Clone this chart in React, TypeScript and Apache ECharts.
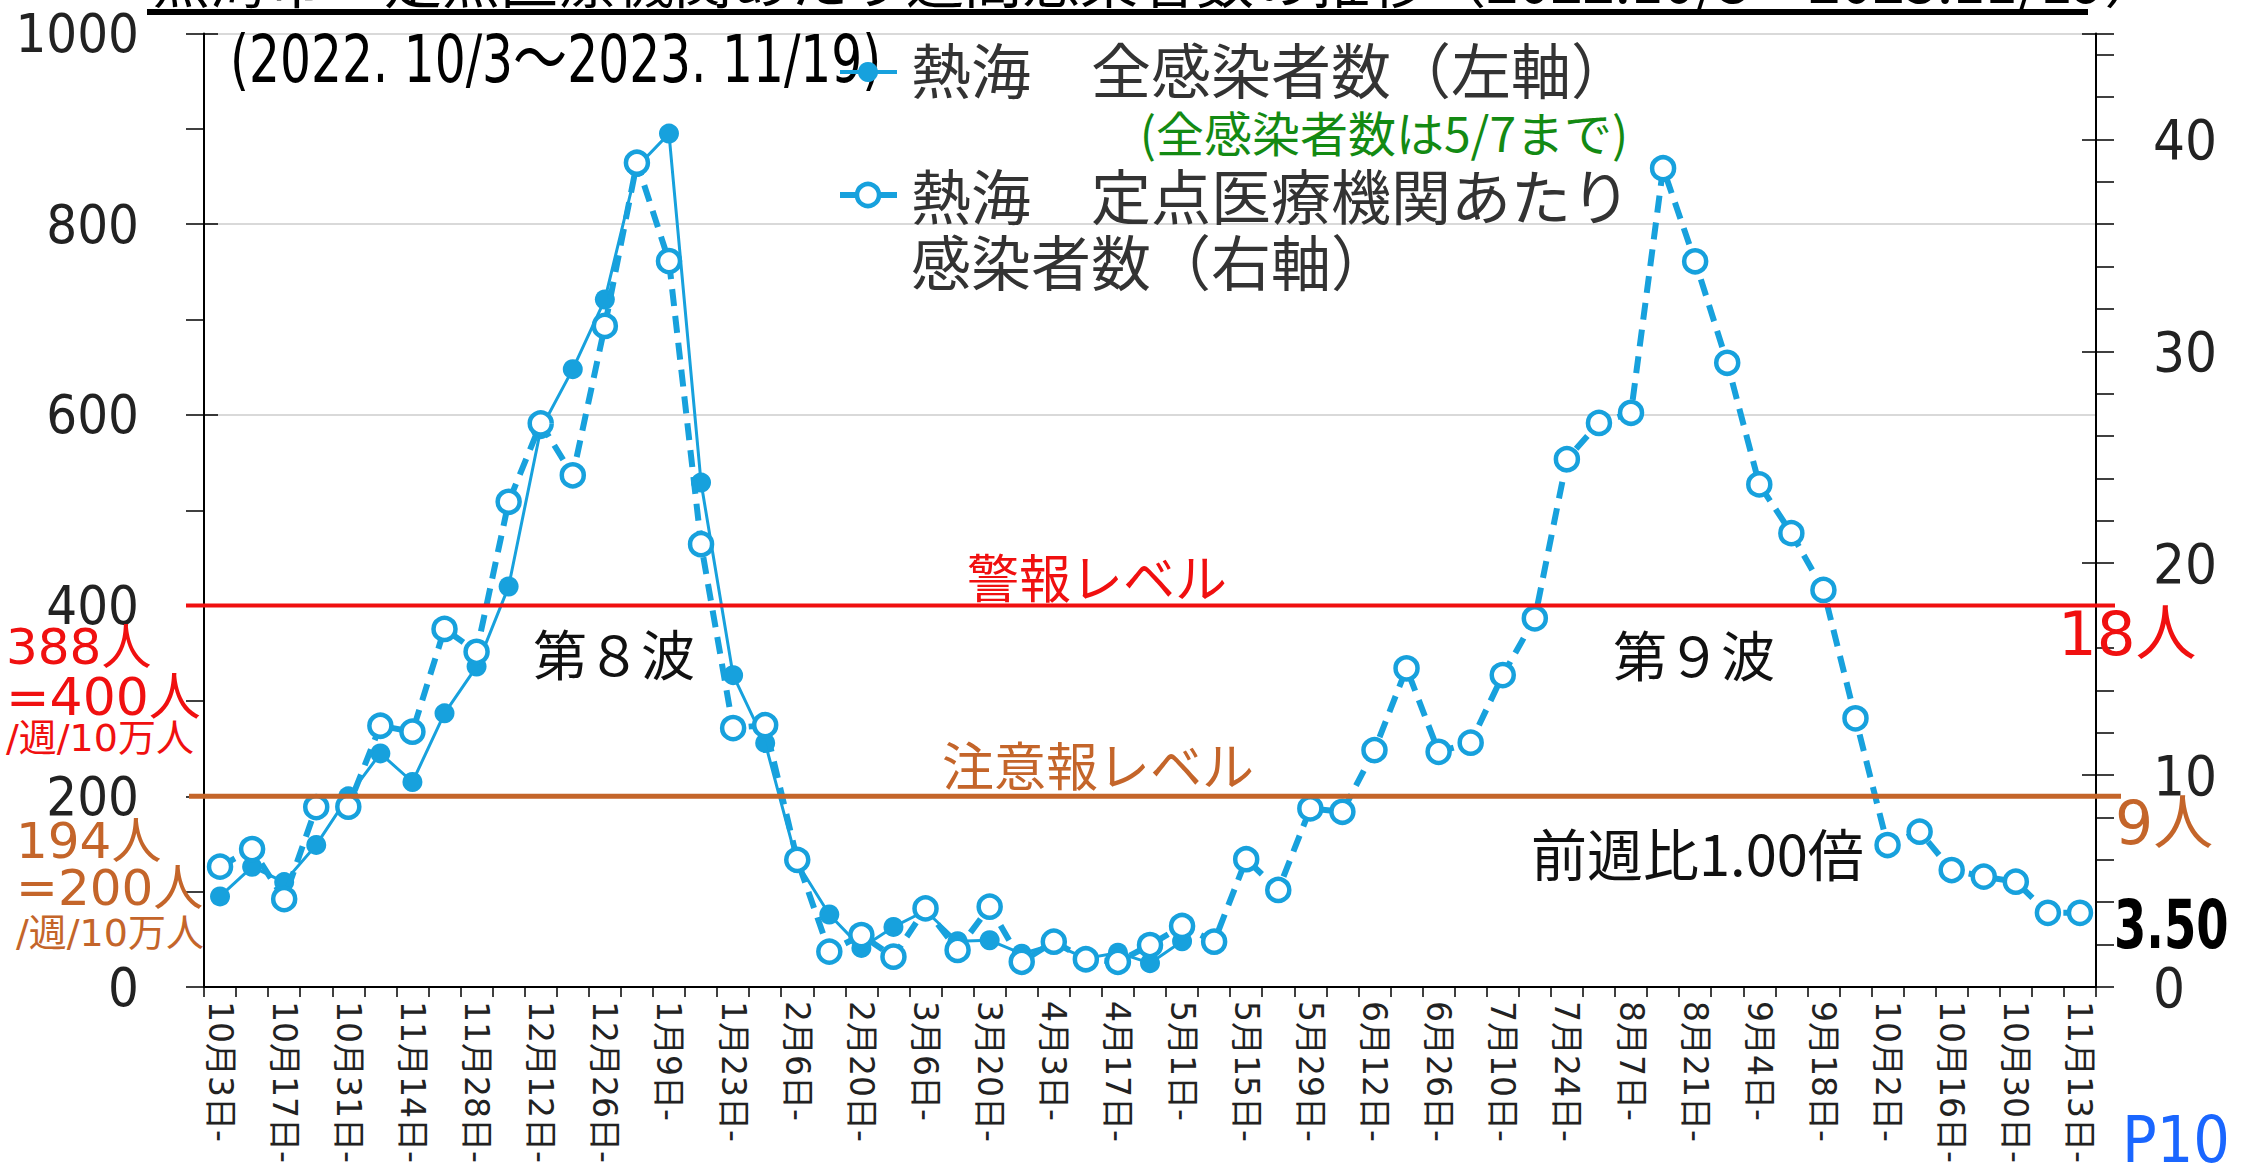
import React, { useEffect, useRef } from 'react';
import * as echarts from 'echarts';

// ---- data ----
const weeks = [
  '10月3日-', '10月10日-', '10月17日-', '10月24日-', '10月31日-', '11月7日-', '11月14日-', '11月21日-', '11月28日-',
  '12月5日-', '12月12日-', '12月19日-', '12月26日-',
  '1月2日-', '1月9日-', '1月16日-', '1月23日-', '1月30日-', '2月6日-', '2月13日-', '2月20日-', '2月27日-',
  '3月6日-', '3月13日-', '3月20日-', '3月27日-', '4月3日-', '4月10日-', '4月17日-', '4月24日-',
  '5月1日-', '5月8日-', '5月15日-', '5月22日-', '5月29日-', '6月5日-', '6月12日-', '6月19日-', '6月26日-',
  '7月3日-', '7月10日-', '7月17日-', '7月24日-', '7月31日-', '8月7日-', '8月14日-', '8月21日-', '8月28日-',
  '9月4日-', '9月11日-', '9月18日-', '9月25日-', '10月2日-', '10月9日-', '10月16日-', '10月23日-', '10月30日-',
  '11月6日-', '11月13日-',
];

// 熱海 全感染者数 (left axis), until 5/7
const totalCases = [
  95, 126, 110, 149, 200, 245, 215, 287, 336, 420, 585, 648, 721, 860, 895, 529, 327, 256, 130, 76,
  41, 63, 80, 48, 49, 35, 45, 30, 36, 25, 48,
];

// 熱海 定点医療機関あたり感染者数 (right axis)
const perSentinel = [
  5.68, 6.51, 4.15, 8.49, 8.51, 12.33, 12.05, 16.9, 15.82, 22.9, 26.6, 24.15, 31.2, 38.9, 34.26, 20.9,
  12.22, 12.36, 6.0, 1.67, 2.45, 1.43, 3.71, 1.75, 3.79, 1.19, 2.14, 1.31, 1.19, 1.98, 2.88, 2.14,
  6.03, 4.58, 8.43, 8.27, 11.18, 15.04, 11.1, 11.53, 14.72, 17.4, 24.91, 26.62, 27.1, 38.64, 34.25,
  29.46, 23.72, 21.42, 18.74, 12.68, 6.7, 7.33, 5.52, 5.21, 4.97, 3.5, 3.5,
];

const leftTicks = { min: 0, max: 1000, labelStep: 200, minorStep: 100 };
const rightTicks = { min: 0, max: 45, labelStep: 10, minorStep: 2 };
const warningLevel = 400; // 警報レベル (left axis) = 18人
const advisoryLevel = 200; // 注意報レベル (left axis) = 9人

const BLUE = '#17a1dd';
const RED = '#f01010';
const BROWN = '#c4652a';
const NARROW = '"DejaVu Sans Condensed", "Noto Sans CJK JP", sans-serif';
const JP = '"Noto Sans CJK JP", "Noto Sans", sans-serif';
const WIDE = '"DejaVu Sans", "Noto Sans CJK JP", sans-serif';

function txt(text: string, x: number, y: number, style: any, extra: any = {}) {
  return {
    type: 'text',
    x,
    y,
    z: 20,
    ...extra,
    style: { text, verticalAlign: 'middle', align: 'left', fill: '#222', fontFamily: JP, ...style },
  };
}

export default function App() {
  const ref = useRef<HTMLDivElement>(null);
  useEffect(() => {
    const chart = echarts.init(ref.current!, undefined, { renderer: 'svg' });
    const option: any = {
      animation: false,
      backgroundColor: '#fff',
      grid: { left: 204, right: 145, top: 33.5, bottom: 189, containLabel: false },
      xAxis: {
        type: 'category',
        data: weeks,
        boundaryGap: true,
        axisLine: { lineStyle: { color: '#000', width: 2 } },
        axisTick: { show: true, interval: 0, length: 10, lineStyle: { color: '#000', width: 1.5 } },
        axisLabel: { interval: 1, rotate: -90, margin: 14, fontSize: 33, color: '#222', fontFamily: WIDE },
        splitLine: { show: false },
      },
      yAxis: [
        {
          type: 'value',
          position: 'left',
          min: leftTicks.min,
          max: leftTicks.max,
          interval: leftTicks.labelStep,
          axisLine: { show: true, lineStyle: { color: '#000', width: 2 } },
          axisTick: { show: true, inside: true, length: 14, lineStyle: { color: '#000', width: 1.5 } },
          axisLabel: {
            margin: 65,
            fontSize: 54,
            color: '#222',
            fontFamily: NARROW,
            formatter: (v: number) => String(v),
          },
          splitLine: { show: true, lineStyle: { color: '#d9d9d9', width: 2 } },
        },
        {
          type: 'value',
          position: 'right',
          min: rightTicks.min,
          max: rightTicks.max,
          interval: rightTicks.labelStep,
          axisLine: { show: true, lineStyle: { color: '#000', width: 2 } },
          axisTick: { show: true, inside: true, length: 14, lineStyle: { color: '#000', width: 1.5 } },
          axisLabel: {
            margin: 57,
            fontSize: 56,
            color: '#222',
            fontFamily: NARROW,
            formatter: (v: number) => (v % rightTicks.labelStep === 0 ? String(v) : ''),
          },
          splitLine: { show: false },
        },
        {
          type: 'value',
          position: 'left',
          min: leftTicks.min,
          max: leftTicks.max,
          interval: leftTicks.minorStep,
          axisLine: { show: false },
          axisTick: { show: true, inside: false, length: 18, lineStyle: { color: '#000', width: 1.5 } },
          axisLabel: { show: false },
          splitLine: { show: false },
        },
        {
          type: 'value',
          position: 'right',
          min: rightTicks.min,
          max: rightTicks.max,
          interval: rightTicks.minorStep,
          axisLine: { show: false },
          axisTick: { show: true, inside: false, length: 18, lineStyle: { color: '#000', width: 1.5 } },
          axisLabel: { show: false },
          splitLine: { show: false },
        },
      ],
      series: [
        {
          type: 'line',
          name: '熱海　全感染者数（左軸）',
          yAxisIndex: 0,
          data: totalCases,
          symbol: 'circle',
          symbolSize: 20,
          showAllSymbol: true,
          lineStyle: { color: BLUE, width: 3 },
          itemStyle: { color: BLUE },
          z: 3,
        },
        {
          type: 'line',
          name: '熱海　定点医療機関あたり感染者数（右軸）',
          yAxisIndex: 1,
          data: perSentinel,
          symbol: 'circle',
          symbolSize: 22,
          showAllSymbol: true,
          lineStyle: { color: BLUE, width: 6, type: [17, 10] },
          itemStyle: { color: '#fff', borderColor: BLUE, borderWidth: 4.5 },
          z: 4,
        },
      ],
    };
    chart.setOption(option);

    const yWarn = chart.convertToPixel({ yAxisIndex: 0 }, warningLevel) as number;
    const yAdv = chart.convertToPixel({ yAxisIndex: 0 }, advisoryLevel) as number;

    const graphics: any[] = [
      // cut-off title with underline
      txt('熱海市　定点医療機関あたり週間感染者数の推移（2022.10/3～2023.11/19）', 152, 7, {
        fontSize: 58,
        fill: '#000',
        verticalAlign: 'bottom',
      }),
      { type: 'rect', z: 20, shape: { x: 147, y: 9, width: 1941, height: 6 }, style: { fill: '#000' } },
      // threshold lines
      { type: 'line', z: 10, shape: { x1: 186, y1: yWarn, x2: 2115, y2: yWarn }, style: { stroke: RED, lineWidth: 4 } },
      { type: 'line', z: 10, shape: { x1: 189, y1: yAdv, x2: 2121, y2: yAdv }, style: { stroke: BROWN, lineWidth: 5 } },
      // subtitle
      txt('(2022. 10/3～2023. 11/19)', 230, 59, { fontSize: 66, fill: '#000', fontFamily: NARROW }, { scaleX: 0.82 }),
      // legend
      { type: 'line', z: 20, shape: { x1: 840, y1: 72, x2: 897, y2: 72 }, style: { stroke: BLUE, lineWidth: 4 } },
      { type: 'circle', z: 21, shape: { cx: 868, cy: 72, r: 10 }, style: { fill: BLUE } },
      txt('熱海　全感染者数（左軸）', 911, 67, { fontSize: 60, fill: '#333' }),
      txt('(全感染者数は5/7まで)', 1384, 131, { fontSize: 48, fill: '#138a13', align: 'center' }),
      { type: 'line', z: 20, shape: { x1: 840, y1: 195, x2: 897, y2: 195 }, style: { stroke: BLUE, lineWidth: 6 } },
      { type: 'circle', z: 21, shape: { cx: 868, cy: 195, r: 11 }, style: { fill: '#fff', stroke: BLUE, lineWidth: 4.5 } },
      txt('熱海　定点医療機関あたり', 911, 193, { fontSize: 60, fill: '#333' }),
      txt('感染者数（右軸）', 911, 259, { fontSize: 60, fill: '#333' }),
      // level labels
      txt('警報レベル', 1097, 575, { fontSize: 52, fill: RED, align: 'center' }),
      txt('注意報レベル', 1098, 763, { fontSize: 52, fill: BROWN, align: 'center' }),
      txt('第８波', 614, 652, { fontSize: 54, fill: '#111', align: 'center' }),
      txt('第９波', 1694, 653, { fontSize: 54, fill: '#111', align: 'center' }),
      txt('前週比1.00倍', 1531, 851, { fontSize: 56, fill: '#111' }),
      txt('3.50', 2114, 924, { fontSize: 68, fill: '#000', fontFamily: NARROW, fontWeight: 'bold' }, { scaleX: 0.76 }),
      txt('18人', 2058, 633, { fontSize: 61, fill: RED, fontFamily: WIDE }),
      txt('9人', 2115, 823, { fontSize: 60, fill: BROWN, fontFamily: WIDE }),
      txt('388人', 6, 647, { fontSize: 50, fill: RED, fontFamily: WIDE }),
      txt('=400人', 6, 697, { fontSize: 52, fill: RED, fontFamily: WIDE }),
      txt('/週/10万人', 6, 738, { fontSize: 38, fill: RED, fontFamily: WIDE }),
      txt('194人', 16, 841, { fontSize: 50, fill: BROWN, fontFamily: WIDE }),
      txt('=200人', 16, 888, { fontSize: 50, fill: BROWN, fontFamily: WIDE }),
      txt('/週/10万人', 16, 933, { fontSize: 38, fill: BROWN, fontFamily: WIDE }),
      txt('P10', 2122, 1140, { fontSize: 64, fill: '#1a66ff', fontFamily: NARROW }),
    ];
    chart.setOption({ graphic: graphics });

    return () => chart.dispose();
  }, []);
  return (
    <div
      ref={ref}
      style={{ position: 'fixed', left: 0, top: 0, width: 2241, height: 1176, background: '#fff' }}
    />
  );
}
